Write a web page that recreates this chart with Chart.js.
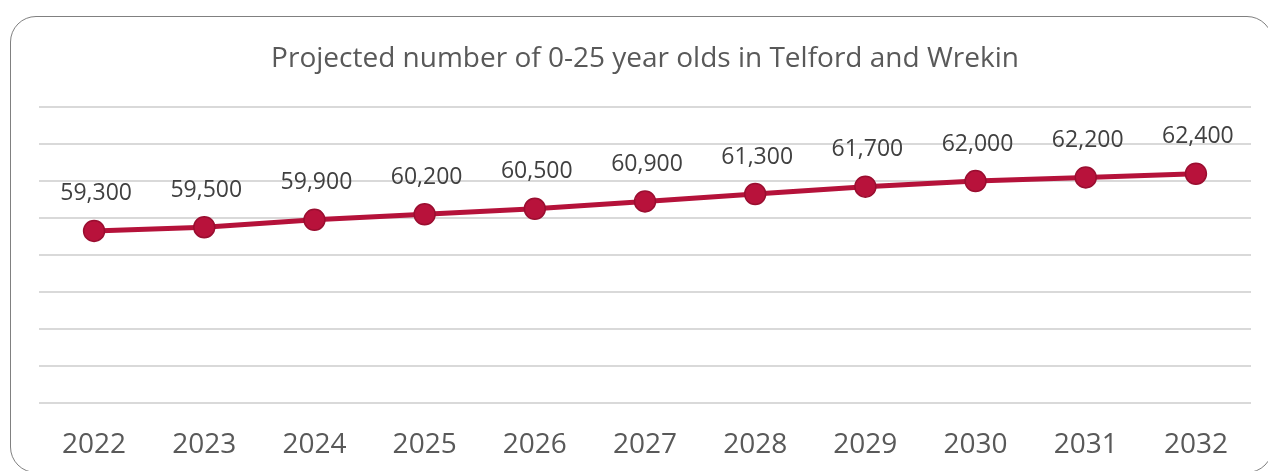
<!DOCTYPE html>
<html>
<head>
<meta charset="utf-8">
<script src="https://cdn.jsdelivr.net/npm/chart.js@4.4.1/dist/chart.umd.min.js"></script>
<style>
  html, body { margin: 0; padding: 0; background: #fff; }
  #wrap { position: relative; width: 1268px; height: 471px; overflow: hidden; }
  #card { position: absolute; left: 10px; top: 16px; width: 1263px; height: 457px;
          border: 1.5px solid #808080; border-radius: 26px; box-sizing: border-box; }
  #chart { position: absolute; left: 0; top: 0; }
</style>
</head>
<body>
<div id="wrap">
  <div id="card"></div>
  <canvas id="chart" width="1268" height="471"></canvas>
</div>
<script>
// projected population, Telford and Wrekin, 0-25 year olds
const years = ['2022', '2023', '2024', '2025', '2026', '2027', '2028', '2029', '2030', '2031', '2032'];
const people = [59300, 59500, 59900, 60200, 60500, 60900, 61300, 61700, 62000, 62200, 62400];
const yMin = 50000;
const yMax = 66000;
const yStep = 2000;

const titleText = 'Projected number of 0-25 year olds in Telford and Wrekin';
const font = "'Open Sans', sans-serif";

// draws the value above every point
const valueLabels = {
    id: 'valueLabels',
    afterDatasetsDraw(chart) {
        const ctx = chart.ctx;
        const meta = chart.getDatasetMeta(0);
        ctx.save();
        ctx.font = '23px ' + font;
        ctx.fillStyle = '#404040';
        ctx.textAlign = 'center';
        ctx.textBaseline = 'middle';
        meta.data.forEach((pt, i) => {
            ctx.fillText(people[i].toLocaleString('en-US'), pt.x + 2, pt.y - 37);
        });
        ctx.restore();
    }
};

const ctx = document.getElementById('chart').getContext('2d');
const myChart = new Chart(ctx, {
    type: 'line',
    data: {
        labels: years,
        datasets: [{
            data: people,
            borderColor: '#B5123A',
            borderWidth: 5,
            backgroundColor: '#B8123B',
            pointBackgroundColor: '#B8123B',
            pointBorderColor: '#9A0E30',
            pointBorderWidth: 1.5,
            pointRadius: 10.5,
            tension: 0
        }]
    },
    options: {
        responsive: false,
        animation: false,
        layout: { padding: { left: 39, right: 17, top: 0, bottom: 13.5 } },
        plugins: {
            legend: { display: false },
            tooltip: { enabled: false },
            title: {
                display: true,
                text: titleText,
                color: '#595959',
                font: { family: font, size: 28, weight: 'normal' },
                padding: { top: 42.2, bottom: 31.5 }
            }
        },
        scales: {
            x: {
                offset: true,
                grid: { display: false },
                border: { display: false },
                ticks: {
                    color: '#595959',
                    font: { family: font, size: 28 },
                    padding: 17.5,
                    maxRotation: 0
                },
                afterFit(scale) { scale.height = 55; }
            },
            y: {
                min: yMin,
                max: yMax,
                ticks: { display: false, stepSize: yStep },
                grid: { color: '#D9D9D9', lineWidth: 2, drawTicks: false },
                border: { display: false },
                afterFit(scale) { scale.width = 0; }
            }
        }
    },
    plugins: [valueLabels]
});
</script>
</body>
</html>
